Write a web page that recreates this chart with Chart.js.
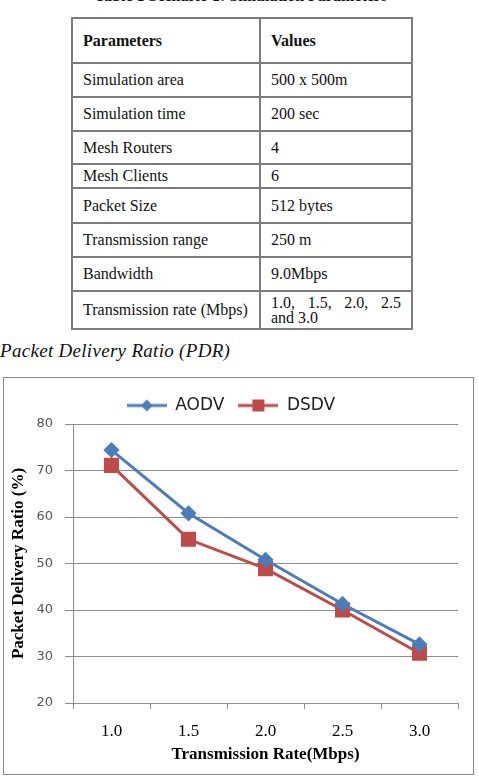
<!DOCTYPE html>
<html>
<head>
<meta charset="utf-8">
<script src="https://cdn.jsdelivr.net/npm/chart.js@4.4.1/dist/chart.umd.min.js"></script>
<style>
  body { margin: 0; width: 479px; height: 779px; overflow: hidden; background: #fff; position: relative; font-family: "Liberation Serif", serif; color: #111; }
  #caption { position: absolute; left: 0; width: 482px; top: -13px; text-align: center; font-weight: bold; font-size: 16px; }
  #params { position: absolute; left: 71px; top: 17px; border-collapse: collapse; font-size: 16px; background: #fff; }
  #params td { border: 2px solid #7c7c7c; padding: 0 10px 0 10px; vertical-align: middle; }
  #params td:first-child { width: 166px; }
  #params td:last-child { width: 130px; }
  #params tr:first-child td { font-weight: bold; }
  #params td.wrap { text-align: justify; text-align-last: left; line-height: 15px; }
  #section { position: absolute; left: 0; top: 340px; font-style: italic; font-size: 19px; letter-spacing: 0.3px; }
  #box { position: absolute; left: 3px; top: 377px; width: 469px; height: 396px; border: 1px solid #8a8a8a; }
  #box canvas { display: block; }
</style>
</head>
<body>
<div id="caption">Table 1 Scenario 1: Simulation Parameters</div>
<table id="params"></table>
<div id="section">Packet Delivery Ratio (PDR)</div>
<div id="box"><canvas id="pdrChart" width="469" height="396"></canvas></div>
<script>
// table rows
const paramNames = ['Parameters', 'Simulation area', 'Simulation time', 'Mesh Routers', 'Mesh Clients',
    'Packet Size', 'Transmission range', 'Bandwidth', 'Transmission rate (Mbps)'];
const paramValues = ['Values', '500 x 500m', '200 sec', '4', '6', '512 bytes', '250 m', '9.0Mbps',
    '1.0, &nbsp;1.5, &nbsp;2.0, &nbsp;2.5 and 3.0'];
const rowHeights = [45, 34, 34, 33, 24, 35, 34, 34, 38];

// chart data
const rates = ['1.0', '1.5', '2.0', '2.5', '3.0'];
const aodv = [74.4, 60.8, 50.8, 41.3, 32.6];
const dsdv = [71.1, 55.2, 48.9, 40.0, 30.7];
const yTicks = [20, 30, 40, 50, 60, 70, 80];

const blue = '#4a7ebb';
const red = '#be4b48';

const table = document.getElementById('params');
paramNames.forEach((name, i) => {
    const tr = document.createElement('tr');
    tr.style.height = rowHeights[i] + 'px';
    const last = i === paramNames.length - 1;
    tr.innerHTML = `<td>${name}</td><td${last ? ' class="wrap"' : ''}>${paramValues[i]}</td>`;
    table.appendChild(tr);
});

// legend icons: a short line with the series marker on it
function legendIcon(color, shape) {
    const c = document.createElement('canvas');
    c.width = 40; c.height = 14;
    const g = c.getContext('2d');
    g.strokeStyle = color; g.fillStyle = color; g.lineWidth = 3;
    g.beginPath(); g.moveTo(0, 7); g.lineTo(40, 7); g.stroke();
    g.beginPath();
    if (shape === 'diamond') {
        g.moveTo(20, 1); g.lineTo(26, 7); g.lineTo(20, 13); g.lineTo(14, 7);
    } else {
        g.rect(14, 1, 12, 12);
    }
    g.closePath(); g.fill();
    return c;
}
const icons = [legendIcon(blue, 'diamond'), legendIcon(red, 'square')];

const ctx = document.getElementById('pdrChart').getContext('2d');
new Chart(ctx, {
    type: 'line',
    data: {
        labels: rates,
        datasets: [{
            label: 'AODV',
            data: aodv,
            borderColor: blue,
            backgroundColor: blue,
            borderWidth: 3,
            pointStyle: 'rectRot',
            pointRadius: 6,
            pointHoverRadius: 6,
        }, {
            label: 'DSDV',
            data: dsdv,
            borderColor: red,
            backgroundColor: red,
            borderWidth: 3,
            pointStyle: 'rect',
            pointRadius: 8.5,
            pointHoverRadius: 8.5,
        }],
    },
    options: {
        responsive: false,
        animation: false,
        layout: { padding: { left: 0, right: 15, top: 5, bottom: 9 } },
        plugins: {
            tooltip: { enabled: false },
            legend: {
                display: true,
                position: 'top',
                labels: {
                    usePointStyle: true,
                    pointStyleWidth: 40,
                    padding: 14,
                    color: '#222',
                    font: { family: 'DejaVu Sans', size: 17 },
                    generateLabels: (chart) => chart.data.datasets.map((ds, i) => ({
                        text: ds.label,
                        pointStyle: icons[i],
                        fillStyle: ds.borderColor,
                        strokeStyle: ds.borderColor,
                        lineWidth: 0,
                        fontColor: '#222',
                        datasetIndex: i,
                    })),
                },
            },
        },
        scales: {
            y: {
                min: 20,
                max: 80,
                afterBuildTicks: (scale) => { scale.ticks = yTicks.map(v => ({ value: v })); },
                afterFit: (scale) => { scale.width = 69; },
                ticks: {
                    color: '#555',
                    padding: 12,
                    font: { family: 'DejaVu Sans', size: 13 },
                },
                grid: { color: '#8c8c8c', tickLength: 8 },
                border: { color: '#8c8c8c' },
                title: {
                    display: true,
                    text: 'Packet Delivery Ratio (%)',
                    color: '#000',
                    padding: { top: 4, bottom: 0 },
                    font: { family: 'Liberation Serif', size: 17, weight: 'bold' },
                },
            },
            x: {
                offset: true,
                afterFit: (scale) => { scale.height = 62; },
                ticks: {
                    color: '#000',
                    padding: 12,
                    font: { family: 'Liberation Serif', size: 17 },
                },
                grid: { offset: true, drawOnChartArea: false, tickLength: 6, color: '#8c8c8c' },
                border: { color: '#8c8c8c' },
                title: {
                    display: true,
                    text: 'Transmission Rate(Mbps)',
                    color: '#000',
                    padding: 0,
                    font: { family: 'Liberation Serif', size: 17, weight: 'bold' },
                },
            },
        },
    },
});
</script>
</body>
</html>
